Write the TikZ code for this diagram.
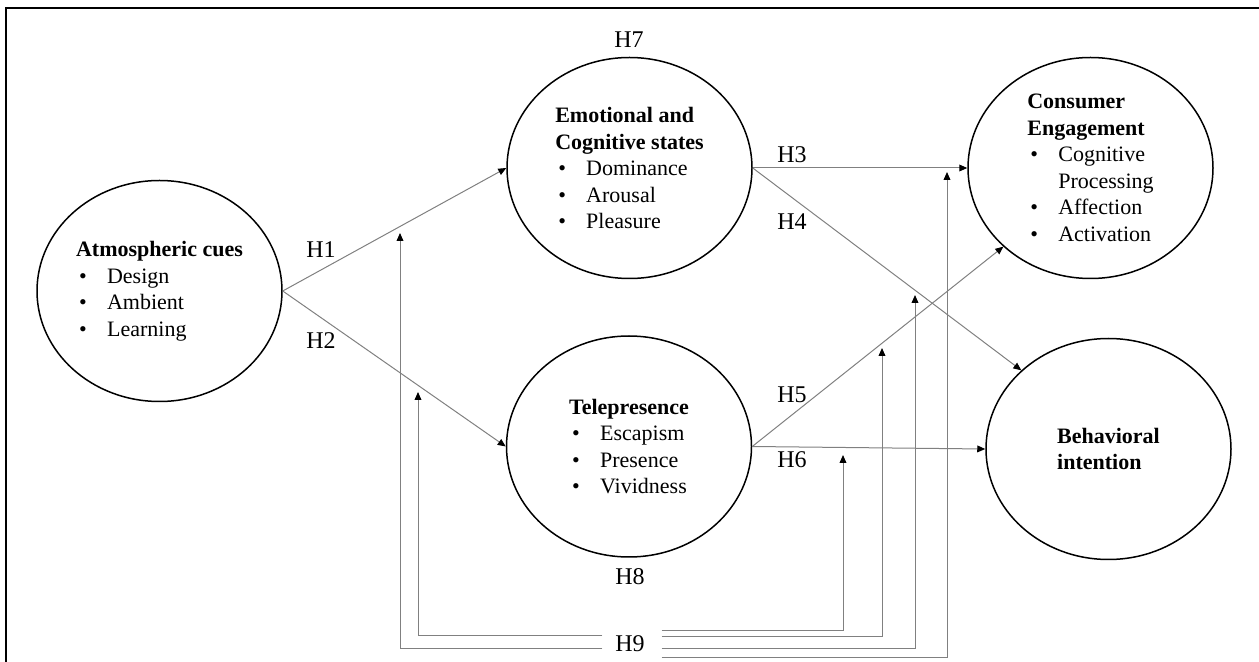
\documentclass[tikz,border=0pt]{standalone}
\usepackage{fontspec}
\setmainfont{Liberation Serif}
\usepackage{tikz}
\usetikzlibrary{shapes.geometric}
\usetikzlibrary{arrows.meta}
\usetikzlibrary{calc}
\newcommand{\itm}[1]{\hspace*{1.5pt}\makebox[14pt][l]{\textbullet}#1}
\tikzset{construct/.style={ellipse, draw=black, line width=0.75pt, minimum width=122.5pt, minimum height=110.5pt, inner sep=0pt, align=left}, hyp/.style={draw=gray, line width=0.5pt, -{Triangle[length=4pt,width=3.4pt,color=black]}}, mod/.style={draw=gray, line width=0.5pt, -{Triangle[length=4pt,width=3.4pt,color=black]}}, hlabel/.style={font=\fontsize{12}{14}\selectfont}}

\begin{document}
\begin{tikzpicture}[x=0.5pt, y=-0.5pt, font=\fontsize{11}{13.25}\selectfont]
\useasboundingbox (0,0) rectangle (1259,662);
\draw[line width=1pt] (5.5,662) -- (5.5,8.5) -- (1259,8.5);
\node[construct] (atm) at (159.5,291) {\textbf{Atmospheric cues}\\ \itm{Design}\\ \itm{Ambient}\\ \itm{Learning}};
\node[construct] (emo) at (629.5,168) {\textbf{Emotional and}\\ \textbf{Cognitive states}\\ \itm{Dominance}\\ \itm{Arousal}\\ \itm{Pleasure}};
\node[construct] (eng) at (1090.5,168) {\textbf{Consumer}\\ \textbf{Engagement}\\ \itm{Cognitive}\\ \hspace*{15.5pt}Processing\\ \itm{Affection}\\ \itm{Activation}};
\node[construct] (tel) at (629,446.5) {\textbf{Telepresence}\\ \itm{Escapism}\\ \itm{Presence}\\ \itm{Vividness}};
\node[construct] (beh) at (1108.5,449) {\textbf{Behavioral}\\ \textbf{intention}};
\draw[hyp] (atm.east) -- (emo.west);
\draw[hyp] (atm.east) -- (tel.west);
\draw[hyp] (emo.east) -- (eng.west);
\draw[hyp] (emo.east) -- (beh.north west);
\draw[hyp] (tel.east) -- (eng.south west);
\draw[hyp] (tel.east) -- (beh.west);
\node[hlabel] (h1) at (321,250) {H1};
\node[hlabel] (h2) at (321,341) {H2};
\node[hlabel] (h3) at (792,155) {H3};
\node[hlabel] (h4) at (792,222) {H4};
\node[hlabel] (h5) at (792,395) {H5};
\node[hlabel] (h6) at (792,460) {H6};
\node[hlabel] (h7) at (629,40) {H7};
\node[hlabel] (h8) at (630,577) {H8};
\node[hlabel] (h9) at (630,644) {H9};
\coordinate (m1) at (400,233);
\coordinate (m2) at (418,392);
\coordinate (m3) at (843,455);
\coordinate (m4) at (882,348);
\coordinate (m5) at (915,295);
\coordinate (m6) at (947,172);
\draw[mod] ($(h9.west)+(-6,-9)$) -| (m2);
\draw[mod] ($(h9.west)+(-6,4)$) -| (m1);
\draw[mod] ($(h9.east)+(10,-14)$) -| (m3);
\draw[mod] ($(h9.east)+(10,-8)$) -| (m4);
\draw[mod] ($(h9.east)+(10,4)$) -| (m5);
\draw[mod] ($(h9.east)+(10,13)$) -| (m6);
\end{tikzpicture}
\end{document}
